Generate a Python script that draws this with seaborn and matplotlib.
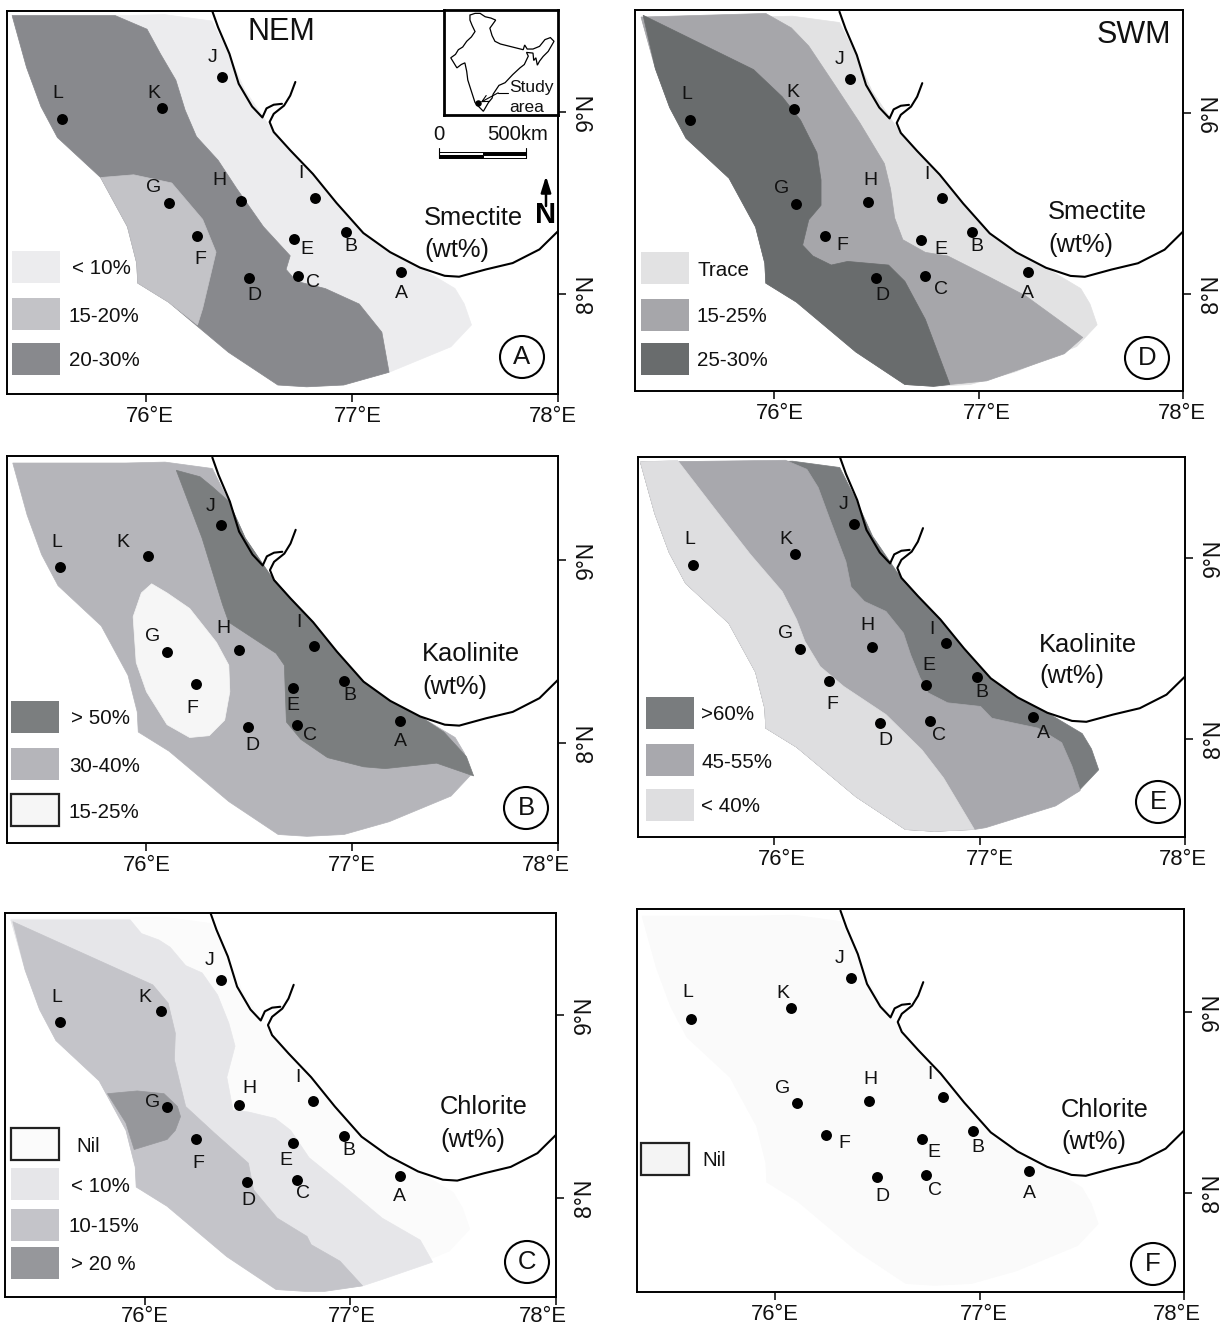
import matplotlib
matplotlib.use("Agg")
import matplotlib.pyplot as plt
from matplotlib.patches import Polygon, Rectangle, Ellipse
from matplotlib.transforms import ScaledTranslation
import pandas as pd
import seaborn as sns

sns.set_theme(style="white")
plt.rcParams["font.family"] = ["Liberation Sans", "DejaVu Sans"]

W, H = 1226, 1327

# station positions (lon, lat)
station_names = ["A", "B", "C", "D", "E", "F", "G", "H", "I", "J", "K", "L"]
station_lon = [77.24, 76.97, 76.74, 76.50, 76.72, 76.25, 76.11, 76.46, 76.82, 76.37, 76.08, 75.59]
station_lat = [8.12, 8.34, 8.10, 8.09, 8.30, 8.32, 8.50, 8.51, 8.53, 9.19, 9.02, 8.96]

coast_north = [(76.32, 9.56), (76.35, 9.465), (76.405, 9.32), (76.45, 9.155), (76.515, 9.03), (76.565, 8.97),
               (76.585, 9.02), (76.62, 9.04), (76.66, 9.045)]
coast_south = [(76.725, 9.165), (76.70, 9.09), (76.67, 9.035), (76.62, 8.99), (76.60, 8.945), (76.62, 8.89),
               (76.70, 8.79), (76.81, 8.66), (76.925, 8.50), (77.055, 8.335), (77.185, 8.23), (77.33, 8.145),
               (77.45, 8.10), (77.52, 8.095), (77.65, 8.135), (77.78, 8.17), (77.91, 8.245), (78.0, 8.345)]

# sampled area, shared by all maps
area_north = [(75.35, 9.53), (75.90, 9.53), (76.09, 9.535), (76.32, 9.50), (76.40, 9.32), (76.48, 9.12),
              (76.57, 8.97), (76.60, 8.92), (76.70, 8.79), (76.81, 8.66), (76.92, 8.50), (77.05, 8.34),
              (77.18, 8.23), (77.33, 8.145), (77.50, 8.03), (77.545, 7.945), (77.58, 7.83), (77.48, 7.71),
              (77.18, 7.57), (76.96, 7.50)]
area_south = [(76.78, 7.49), (76.64, 7.50), (76.40, 7.68), (76.11, 7.955), (75.96, 8.06), (75.955, 8.17),
              (75.91, 8.37), (75.78, 8.64), (75.57, 8.86), (75.49, 9.03), (75.42, 9.245)]
area = area_north + area_south

# A: smectite NEM
nem_smec_dark = [(75.35, 9.53), (75.85, 9.53), (76.005, 9.455), (76.07, 9.32), (76.145, 9.175), (76.19, 9.01),
                 (76.245, 8.865), (76.35, 8.735), (76.44, 8.58), (76.57, 8.37), (76.70, 8.21), (76.68, 8.135),
                 (76.73, 8.07), (76.87, 8.03), (77.035, 7.945), (77.145, 7.79), (77.18, 7.57), (76.96, 7.50)] + area_south
nem_smec_mid = [(75.78, 8.64), (75.94, 8.655), (76.125, 8.61), (76.275, 8.41), (76.34, 8.23), (76.275, 7.92),
                (76.25, 7.83), (76.11, 7.955), (75.96, 8.06), (75.955, 8.17), (75.91, 8.37)]

# D: smectite SWM
swm_smec_mid = [(75.35, 9.53), (75.96, 9.55), (76.085, 9.47), (76.17, 9.37), (76.30, 9.15), (76.42, 8.945),
                (76.54, 8.72), (76.57, 8.58), (76.59, 8.42), (76.63, 8.30), (76.74, 8.23), (76.85, 8.21),
                (77.06, 8.09), (77.23, 7.99), (77.51, 7.76), (77.42, 7.67), (77.04, 7.52), (76.86, 7.50)] + area_south
swm_smec_dark = [(75.36, 9.54), (75.90, 9.24), (76.04, 9.09), (76.13, 8.96), (76.21, 8.78), (76.23, 8.63),
                 (76.23, 8.49), (76.17, 8.41), (76.14, 8.27), (76.19, 8.21), (76.28, 8.16), (76.36, 8.18),
                 (76.56, 8.16), (76.64, 8.07), (76.74, 7.86), (76.86, 7.50), (76.78, 7.49)] + area_south

# B: kaolinite NEM
nem_kaol_dark = [(76.145, 9.49), (76.26, 9.455), (76.32, 9.40), (76.40, 9.32), (76.48, 9.12), (76.57, 8.97),
                 (76.60, 8.92), (76.70, 8.79), (76.81, 8.66), (76.92, 8.50), (77.05, 8.34), (77.18, 8.23),
                 (77.33, 8.145), (77.445, 8.06), (77.555, 7.925), (77.59, 7.82), (77.41, 7.89), (77.16, 7.86),
                 (77.055, 7.87), (76.88, 7.92), (76.75, 8.02), (76.68, 8.115), (76.67, 8.425), (76.63, 8.49),
                 (76.40, 8.66), (76.37, 8.755), (76.27, 9.12)]
nem_kaol_low = [(76.025, 8.87), (75.975, 8.82), (75.935, 8.69), (75.95, 8.44), (76.0, 8.28), (76.10, 8.10),
                (76.21, 8.03), (76.305, 8.04), (76.38, 8.125), (76.405, 8.28), (76.40, 8.425), (76.34, 8.55),
                (76.21, 8.735), (76.10, 8.82)]

# E: kaolinite SWM
swm_kaol_edge = [(76.056, 9.54), (76.16, 9.49), (76.215, 9.39), (76.27, 9.22), (76.35, 8.98), (76.375, 8.84),
                 (76.44, 8.76), (76.545, 8.705), (76.63, 8.585), (76.665, 8.465), (76.71, 8.34), (76.75, 8.255),
                 (76.845, 8.20), (77.005, 8.18), (77.06, 8.115), (77.16, 8.09), (77.285, 8.06), (77.40, 7.98),
                 (77.45, 7.85), (77.49, 7.715), (77.37, 7.63), (77.03, 7.51), (76.975, 7.50)]
swm_kaol_low = [(75.53, 9.54), (75.72, 9.26), (75.885, 9.02), (76.04, 8.815), (76.11, 8.66), (76.15, 8.54),
                (76.225, 8.40), (76.34, 8.29), (76.545, 8.135), (76.72, 7.94), (76.825, 7.785), (76.975, 7.50),
                (76.78, 7.49)] + area_south + [(75.35, 9.53)]
swm_kaol_mid = [(75.35, 9.53)] + swm_kaol_edge + area_south

# C: chlorite NEM
nem_chl_lt10 = [(75.35, 9.52), (75.93, 9.52), (75.985, 9.445), (76.07, 9.41), (76.125, 9.37), (76.2, 9.27),
                (76.28, 9.23), (76.355, 9.11), (76.41, 8.955), (76.44, 8.83), (76.40, 8.66), (76.43, 8.48),
                (76.505, 8.47), (76.635, 8.435), (76.71, 8.37), (76.80, 8.22), (76.97, 8.065), (77.155, 7.89),
                (77.34, 7.77), (77.40, 7.65), (77.155, 7.555), (77.06, 7.52), (76.875, 7.49)] + area_south
nem_chl_mid = [(75.36, 9.51), (76.04, 9.165), (76.115, 9.065), (76.15, 8.90), (76.145, 8.755), (76.20, 8.50),
               (76.34, 8.355), (76.505, 8.19), (76.53, 8.045), (76.645, 7.89), (76.79, 7.79), (76.81, 7.745),
               (76.95, 7.655), (77.06, 7.52), (76.875, 7.49)] + area_south
nem_chl_high = [(75.82, 8.57), (75.965, 8.585), (76.095, 8.57), (76.16, 8.50), (76.175, 8.445), (76.15, 8.37),
                (76.11, 8.32), (75.95, 8.265), (75.91, 8.41)]

# India outline for the inset
india_lon = [73.8, 75.2, 76.6, 78, 79.6, 80.9, 79.3, 79.9, 80.7, 82.2, 84.8, 88.5, 88.9, 89.6, 91.2, 93, 94.5, 96,
             97, 96.2, 95.4, 94, 93, 92.4, 92, 91.4, 91.2, 89.4, 89.9, 88.8, 87.6, 85.6, 83.5, 81.8, 80.2, 79.9,
             78.9, 77.5, 76.4, 75.2, 74, 73.2, 72.9, 72.4, 71.4, 70.2, 68.5, 69.8, 70.6, 71.8, 72.9, 74.2, 75.2,
             74.4, 73.8]
india_lat = [36.5, 37, 37, 36, 35.6, 35, 32.6, 30.4, 28.7, 27.9, 27.2, 26.2, 27.6, 26.4, 26.4, 27.2, 29.2, 29.8,
             28.7, 27.2, 25.7, 24.2, 22.8, 21.6, 23.8, 23.0, 25.2, 25.4, 24.3, 21.8, 20.8, 18.8, 16.4, 15.6, 13, 11.8,
             10.5, 7.9, 9.1, 10.5, 14.5, 17.2, 19.8, 22.3, 21.8, 20.8, 23.8, 24.8, 26.2, 27.0, 28.7, 30.0, 31.6,
             33.4, 35]

panels = [
    dict(name="A", box=(7, 558, 11, 394), t76=146, t78=558, t9=112, t8=294, shift=0.0, k_lon=None, xpad=2.5,
         tick_dx=(4, 6, -5), zones=[(area, "#ECECEE"), (nem_smec_dark, "#88898D"), (nem_smec_mid, "#C3C3C7")],
         legend=[(12, 251, "#ECECEE", False, 72, "< 10%"), (12, 298, "#C3C3C7", False, 69, "15-20%"),
                 (12, 343, "#88898D", False, 69, "20-30%")],
         mineral=("Smectite", 424, 218, 250), circle=(522, 357),
         offs=[(0, 21), (5, 14), (15, 7), (5, 18), (13, 10), (3, 24), (-15, -15), (-21, -21), (-14, -24), (-10, -20), (-9, -15), (-4, -26)]),
    dict(name="D", box=(635, 1183, 10, 391), t76=774, t78=1183, t9=113, t8=294, shift=0.0, k_lon=76.10, xpad=2.5,
         tick_dx=(6, 8, -1), zones=[(area, "#E2E2E3"), (swm_smec_mid, "#A6A6AA"), (swm_smec_dark, "#696C6D")],
         legend=[(641, 252, "#E2E2E3", False, 697, "Trace"), (641, 299, "#A6A6AA", False, 697, "15-25%"),
                 (641, 343, "#696C6D", False, 697, "25-30%")],
         mineral=("Smectite", 1048, 212, 245), circle=(1147, 358),
         offs=[(0, 21), (5, 14), (16, 14), (6, 18), (20, 10), (17, 9), (-15, -15), (2, -21), (-15, -24), (-10, -19), (-2, -17), (-3, -26)]),
    dict(name="B", box=(7, 558, 456, 843), t76=147, t78=560, t9=560, t8=743, shift=-0.008, k_lon=76.013, xpad=2.5,
         tick_dx=(0, 0, -12), zones=[(area, "#B5B5BA"), (nem_kaol_dark, "#7B7E7F"), (nem_kaol_low, "#F6F6F6")],
         legend=[(11, 701, "#7B7E7F", False, 71, "> 50%"), (11, 748, "#B5B5BA", False, 69, "30-40%"),
                 (11, 794, "#F6F6F6", True, 69, "15-25%")],
         mineral=("Kaolinite", 422, 654, 687), circle=(526, 808),
         offs=[(0, 20), (5, 15), (13, 11), (5, 19), (0, 17), (-4, 24), (-15, -15), (-16, -21), (-15, -24), (-10, -19), (-25, -14), (-4, -25)]),
    dict(name="E", box=(638, 1185, 457, 837), t76=774, t78=1185, t9=558, t8=739, shift=0.018, k_lon=76.082, xpad=2.5,
         tick_dx=(8, 10, -2), zones=[(area, "#797C7E"), (swm_kaol_mid, "#A8A8AD"), (swm_kaol_low, "#DEDEE0")],
         legend=[(646, 697, "#797C7E", False, 701, ">60%"), (646, 744, "#A8A8AD", False, 701, "45-55%"),
                 (646, 789, "#DEDEE0", False, 701, "< 40%")],
         mineral=("Kaolinite", 1039, 645, 676), circle=(1158, 802),
         offs=[(11, 16), (5, 15), (9, 15), (5, 18), (3, -19), (3, 23), (-15, -15), (-5, -21), (-14, -14), (-10, -19), (-9, -15), (-4, -26)]),
    dict(name="C", box=(5, 556, 913, 1297), t76=144.5, t78=556, t9=1015, t8=1198, shift=0.0, k_lon=None, xpad=0.5,
         tick_dx=(0, 2, -13), zones=[(area, "#FBFBFB"), (nem_chl_lt10, "#E6E6E9"), (nem_chl_mid, "#C4C4C9"), (nem_chl_high, "#96979B")],
         legend=[(11, 1128, "#FBFBFB", True, 76, "Nil"), (11, 1168, "#E6E6E9", False, 71, "< 10%"),
                 (11, 1209, "#C4C4C9", False, 69, "10-15%"), (11, 1247, "#96979B", False, 71, "> 20 %")],
         mineral=("Chlorite", 440, 1107, 1140), circle=(527, 1262),
         offs=[(0, 20), (5, 15), (6, 14), (1, 19), (-7, 17), (2, 24), (-15, -4), (10, -16), (-15, -24), (-11, -20), (-16, -14), (-3, -25)]),
    dict(name="F", box=(637, 1184, 909, 1292), t76=775, t78=1184, t9=1012, t8=1193, shift=0.0, k_lon=None, xpad=2.5,
         tick_dx=(0, 4, -7), zones=[(area, "#FAFAFA")],
         legend=[(641, 1143, "#F4F4F4", True, 702, "Nil")],
         mineral=("Chlorite", 1061, 1110, 1142), circle=(1153, 1264),
         offs=[(1, 22), (5, 16), (9, 16), (5, 20), (12, 14), (18, 8), (-15, -14), (1, -21), (-13, -23), (-11, -19), (-8, -15), (-3, -27)]),
]

fig = plt.figure(figsize=(W / 100, H / 100), dpi=100, facecolor="white")


def add_px_axes(left, right, top, bottom):
    return fig.add_axes([left / W, 1 - bottom / H, (right - left) / W, (bottom - top) / H])


for p in panels:
    left, right, top, bottom = p["box"]
    ax = add_px_axes(left, right, top, bottom)
    # limits from the tick pixel positions
    xscale = (p["t78"] - p["t76"]) / 2
    yscale = p["t8"] - p["t9"]
    ax.set_xlim(76 + (left - p["t76"]) / xscale, 76 + (right - p["t76"]) / xscale)
    ax.set_ylim(9 - (bottom - p["t9"]) / yscale, 9 - (top - p["t9"]) / yscale)

    for pts, col in p["zones"]:
        ax.add_patch(Polygon(pts, closed=True, facecolor=col, edgecolor=col, lw=0.5, zorder=1))

    for line in (coast_north, coast_south):
        ax.plot([c[0] for c in line], [c[1] for c in line], color="black", lw=1.5, zorder=3)

    stations = pd.DataFrame({"name": station_names, "lon": station_lon, "lat": station_lat})
    if p["k_lon"] is not None:
        stations.loc[stations["name"] == "K", "lon"] = p["k_lon"]
    stations["lon"] = stations["lon"] + p["shift"]
    sns.scatterplot(data=stations, x="lon", y="lat", color="black", s=62, linewidth=0, ax=ax, zorder=4, legend=False)
    for i, row in stations.iterrows():
        dx, dy = p["offs"][i]
        ax.annotate(row["name"], (row["lon"], row["lat"]), xytext=(dx, -dy), textcoords="offset pixels",
                    ha="center", va="center", fontsize=14, color="#111111", zorder=5)

    ax.set_xlabel("")
    ax.set_ylabel("")
    ax.set_xticks([76, 77, 78])
    ax.set_xticklabels(["76°E", "77°E", "78°E"], fontsize=15.8)
    ax.yaxis.tick_right()
    ax.set_yticks([8, 9])
    ax.set_yticklabels(["8°N", "9°N"], fontsize=16.5, rotation=90, va="center")
    ax.tick_params(axis="x", length=6, width=1.1, color="black", labelcolor="#111111", pad=p["xpad"], bottom=True)
    ax.tick_params(axis="y", length=6, width=1.1, color="black", labelcolor="#111111", pad=6.5, right=True)
    # the x labels were placed by hand in the original
    for lbl, dx in zip(ax.get_xticklabels(), p["tick_dx"]):
        lbl.set_transform(lbl.get_transform() + ScaledTranslation(dx / 100, 0, fig.dpi_scale_trans))
    for s in ax.spines.values():
        s.set_visible(True)
        s.set_linewidth(1.4)
        s.set_color("black")

# overlay in pixel coordinates for the annotations
ov = fig.add_axes([0, 0, 1, 1])
ov.set_xlim(0, W)
ov.set_ylim(H, 0)
ov.axis("off")
ov.patch.set_alpha(0)

for p in panels:
    for x, y, col, outlined, tx, label in p["legend"]:
        h = 32
        ov.add_patch(Rectangle((x, y), 48, h, facecolor=col, edgecolor="#222222" if outlined else "none",
                               lw=1.6 if outlined else 0))
        ov.text(tx, y + h / 2 + 2, label, ha="left", va="center", fontsize=14.8, color="#111111")
    word, mx, y1, y2 = p["mineral"]
    ov.text(mx, y1, word, ha="left", va="center", fontsize=18.4, color="#111111")
    ov.text(mx, y2, "(wt%)", ha="left", va="center", fontsize=18.4, color="#111111")
    cx, cy = p["circle"]
    ov.add_patch(Ellipse((cx, cy), 44, 42, facecolor="white", edgecolor="black", lw=1.5))
    ov.text(cx, cy, p["name"], ha="center", va="center", fontsize=18.5, color="#111111")

ov.text(281, 32, "NEM", ha="center", va="center", fontsize=22, color="#111111")
ov.text(1134, 35, "SWM", ha="center", va="center", fontsize=22, color="#111111")

# scale bar
ov.text(439, 134, "0", ha="center", va="center", fontsize=14.6, color="#111111")
ov.text(487, 134, "500km", ha="left", va="center", fontsize=14.6, color="#111111")
ov.add_patch(Rectangle((439, 152), 44, 3, facecolor="white", edgecolor="black", lw=0.7))
ov.add_patch(Rectangle((439, 155), 44, 3, facecolor="black", edgecolor="black", lw=0.7))
ov.add_patch(Rectangle((483, 152), 43, 3, facecolor="black", edgecolor="black", lw=0.7))
ov.add_patch(Rectangle((483, 155), 43, 3, facecolor="white", edgecolor="black", lw=0.7))
ov.plot([439, 439], [148, 158], color="black", lw=0.8)
ov.plot([526, 526], [148, 158], color="black", lw=0.8)

# north arrow
ov.annotate("", xy=(546, 176), xytext=(546, 206),
            arrowprops=dict(arrowstyle="-|>,head_width=0.25,head_length=0.8", color="black", lw=1.8, shrinkA=0, shrinkB=0))
ov.text(545.5, 215, "N", ha="center", va="center", fontsize=21, fontweight="bold", color="black")

# inset map
ins = add_px_axes(443.5, 558, 10, 115)
ins.set_xlim(66.5, 98.1)
ins.set_ylim(6.8, 38)
ins.set_xticks([])
ins.set_yticks([])
ins.add_patch(Polygon(list(zip(india_lon, india_lat)), closed=True, facecolor="white", edgecolor="black", lw=0.9))
sns.scatterplot(x=[76.1], y=[10.3], color="black", s=22, linewidth=0, ax=ins, legend=False)
ins.annotate("", xy=(76.8, 10.6), xytext=(81.6, 13.4),
             arrowprops=dict(arrowstyle="->", color="black", lw=0.8, shrinkA=0, shrinkB=0))
ins.plot([81.6, 84.2], [13.4, 13.4], color="black", lw=0.8)
ins.set_xlabel("")
ins.set_ylabel("")
for s in ins.spines.values():
    s.set_visible(True)
    s.set_linewidth(2)
    s.set_color("black")
ins.text(84.7, 15, "Study", fontsize=12.5, ha="left", va="center", color="#111111")
ins.text(84.7, 8.9, "area", fontsize=12.5, ha="left", va="center", color="#111111")

fig.savefig("out.png", dpi=100)
